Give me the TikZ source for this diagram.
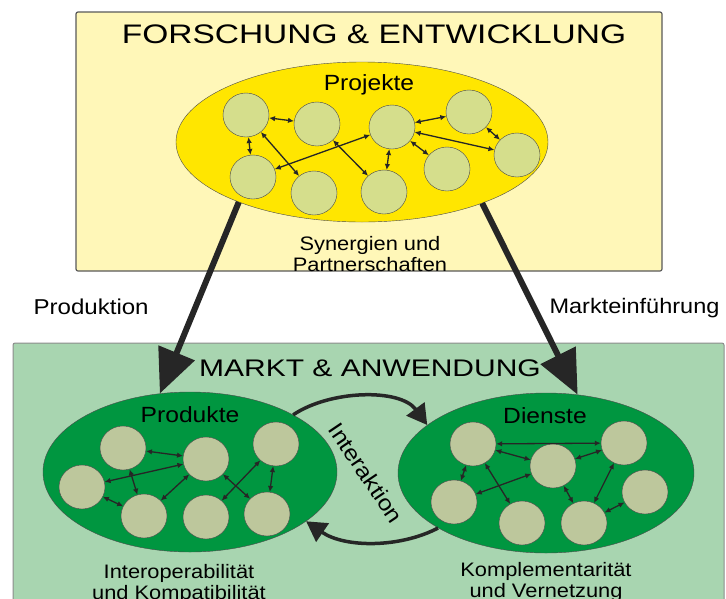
\documentclass[tikz,border=0pt]{standalone}
\usepackage{fontspec}
\setmainfont{Liberation Sans}
\newfontfamily\headfont[FakeStretch=1.25]{Liberation Sans}
\newfontfamily\lblfont[FakeStretch=1.12]{Liberation Sans}
\usetikzlibrary{positioning}
\usetikzlibrary{shapes}
\usetikzlibrary{arrows.meta}

\definecolor{fezbg}{HTML}{FFF7B8}
\definecolor{fezell}{HTML}{FFE600}
\definecolor{fezcirc}{HTML}{D5DE8C}
\definecolor{mabg}{HTML}{A8D5B0}
\definecolor{maell}{HTML}{009640}
\definecolor{macirc}{HTML}{BDC79C}

\begin{document}
\begin{tikzpicture}[x=1pt, y=-1pt,
    pk/.style={draw=black!70, ellipse, fill=fezcirc, minimum width=46pt, minimum height=44pt, inner sep=0pt},
    mk/.style={pk, fill=macirc},
    grp/.style={draw=black!70, ellipse, inner sep=0pt, minimum width=294pt, minimum height=160pt},
    lnk/.style={{Latex[length=6pt,width=5.5pt]}-{Latex[length=6pt,width=5.5pt]}, line width=1.3pt, draw=black!85},
    big/.style={-{Triangle[length=44pt,width=38pt]}, line width=6pt, draw=black!85},
    ia/.style={-{Triangle[length=20pt,width=22pt]}, line width=3.5pt, draw=black!85},
    head/.style={anchor=base, font=\headfont},
    lbl/.style={anchor=base, font=\lblfont\fontsize{22}{24}\selectfont},
    sub/.style={align=center, inner sep=0pt, font=\lblfont\fontsize{19.5}{20.5}\selectfont}
    ]
\useasboundingbox (0,0) rectangle (726,598);

% Forschung & Entwicklung
\filldraw[fill=fezbg, draw=black!65, line width=1.2pt, rounded corners=2pt] (76,12) rectangle (662,271);
\node[head, font=\headfont\fontsize{26.8}{28}\selectfont] (FE) at (374,43) {FORSCHUNG \& ENTWICKLUNG};
\node[grp, fill=fezell, minimum width=372pt] (PRJ) at (362,142) {};
\node[lbl] at (369,90) {Projekte};
\node[pk] (PRJ1) at (246,115) {};
\node[pk] (PRJ2) at (317,124) {};
\node[pk] (PRJ3) at (392,127) {};
\node[pk] (PRJ4) at (469,112) {};
\node[pk] (PRJ5) at (517,155) {};
\node[pk] (PRJ6) at (447,169) {};
\node[pk] (PRJ7) at (253,177) {};
\node[pk] (PRJ8) at (314,193) {};
\node[pk] (PRJ9) at (384,192) {};
\foreach \a/\b in {1/2, 1/7, 1/8, 7/3, 2/9, 3/9, 3/4, 3/5, 3/6, 4/5}
    \draw[lnk] (PRJ\a) -- (PRJ\b);
\node[sub] (SYN) at (370,254) {Synergien und\\Partnerschaften};

% Markt & Anwendung
\filldraw[fill=mabg, draw=black!45, line width=1pt, rounded corners=2pt] (13,343) rectangle (724,604);
\node[head, font=\headfont\fontsize{24}{26}\selectfont] (MA) at (370,376) {MARKT \& ANWENDUNG};
\node[grp, fill=maell] (PRD) at (190,472) {};
\node[grp, fill=maell, minimum width=296pt] (DNS) at (546,473) {};
\node[lbl] at (190,422) {Produkte};
\node[lbl] at (545,423) {Dienste};

\node[mk] (PRD1) at (123,448) {};
\node[mk] (PRD2) at (206,459) {};
\node[mk] (PRD3) at (276,444) {};
\node[mk] (PRD4) at (82,487) {};
\node[mk] (PRD5) at (144,516) {};
\node[mk] (PRD6) at (206,517) {};
\node[mk] (PRD7) at (267,514) {};
\foreach \a/\b in {1/2, 4/2, 1/5, 4/5, 5/2, 2/7, 3/6, 3/7}
    \draw[lnk] (PRD\a) -- (PRD\b);

\node[mk] (DNS1) at (473,444) {};
\node[mk] (DNS2) at (553,466) {};
\node[mk] (DNS3) at (624,443) {};
\node[mk] (DNS4) at (454,502) {};
\node[mk] (DNS5) at (522,523) {};
\node[mk] (DNS6) at (584,523) {};
\node[mk] (DNS7) at (645,492) {};
\foreach \a/\b in {1/3, 1/2, 2/3, 1/4, 4/2, 1/5, 2/6, 3/6, 6/7}
    \draw[lnk] (DNS\a) -- (DNS\b);

\node[sub] at (179,584) {Interoperabilit\"at\\und Kompatibilit\"at};
\node[sub] at (546,582) {Komplementarit\"at\\und Vernetzung};

% Uebergaenge
\draw[big] (PRJ.206) -- (PRD.111);
\draw[big] (PRJ.333) -- (DNS.68);
\node[lbl, anchor=base west, font=\lblfont\fontsize{21.5}{24}\selectfont] at (30,314) {Produktion};
\node[lbl, anchor=base east, font=\lblfont\fontsize{21}{24}\selectfont] at (723,313) {Markteinf\"uhrung};

% Interaktion
\draw[ia] (PRD.29) .. controls (330,390) and (400,388) .. (DNS.158);
\draw[ia] (DNS.207) .. controls (400,548) and (345,548) .. (PRD.337);
\node[font=\lblfont\fontsize{22}{24}\selectfont, rotate=-56] at (366,473) {Interaktion};
\end{tikzpicture}
\end{document}
